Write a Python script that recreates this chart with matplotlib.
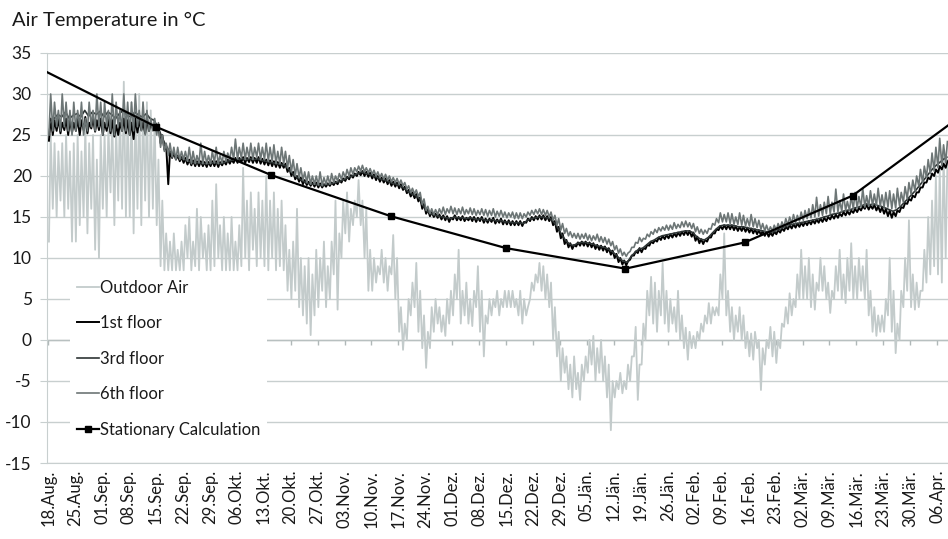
import numpy as np
import pandas as pd
import matplotlib
matplotlib.use("Agg")
import matplotlib.pyplot as plt

plt.rcParams['font.family'] = ['Lato', 'DejaVu Sans']
plt.rcParams['axes.unicode_minus'] = False

start = pd.Timestamp("2012-08-18")

# weekly tick labels
tick_labels = ["18.Aug.", "25.Aug.", "01.Sep.", "08.Sep.", "15.Sep.", "22.Sep.", "29.Sep.",
               "06.Okt.", "13.Okt.", "20.Okt.", "27.Okt.", "03.Nov.", "10.Nov.", "17.Nov.",
               "24.Nov.", "01.Dez.", "08.Dez.", "15.Dez.", "22.Dez.", "29.Dez.", "05.Jän.",
               "12.Jän.", "19.Jän.", "26.Jän.", "02.Feb.", "09.Feb.", "16.Feb.", "23.Feb.",
               "02.Mär.", "09.Mär.", "16.Mär.", "23.Mär.", "30.Mär.", "06.Apr."]

# outdoor air, daily max / min (one value per day from 18.Aug)
outdoor_max = [25, 24, 23, 24, 25, 23, 24,
               25, 23, 26, 24, 25, 22, 25,
               25, 26, 27, 26, 28, 31.5, 28,
               29, 28, 30, 29, 29, 28, 27,
               22, 17, 13, 12, 13, 11, 12,
               14, 15, 12, 16, 15, 13, 14,
               17, 19, 14, 15, 13, 15, 12,
               14, 21, 17, 18, 16, 18, 17,
               20, 17, 18, 16, 17, 14, 11,
               12, 16, 10, 9, 10, 8, 11,
               10, 12, 9, 12, 17, 13, 17,
               18, 16, 17, 19.5, 17, 16, 11,
               10, 9, 11, 10, 9, 12.8, 10,
               4, 2, 5, 7, 9.4, 6, 3,
               1, 4, 5, 4, 3, 5, 6,
               8, 11, 6, 7, 5, 6, 9,
               6, 3, 5, 5, 6, 5, 6,
               6, 6, 5, 6, 5, 4, 7,
               8, 9.4, 9, 8, 7, 4, 1,
               -1, -2, -3, -2, -4, -3, -2,
               0, 0.5, -1, 0, -2, -3, -5,
               -5, -4, -5, -3, -2, 1.6, -3,
               2, 6, 7.7, 7, 6, 9.4, 6,
               5, 4, 6, 3, 1.5, 1, 0.5,
               1, 2, 3, 4.5, 4, 4, 8,
               13, 6, 4, 3, 4, 3, 1,
               0.8, 1, 0, -1, 0, 1.6, 1,
               0, 2, 4, 5.7, 5, 8, 11,
               9, 10, 8, 7, 10, 9, 7,
               6, 9, 11, 8, 10, 11.8, 9,
               10, 9, 11, 6, 4, 3, 3,
               5, 10, 6, 2, 6, 10, 14.6,
               8, 7, 6, 11, 15, 17, 20,
               21, 23, 22]
outdoor_min = [12, 16, 15, 17, 15, 16, 12,
               12, 14, 15, 13, 16, 11, 10,
               16, 15, 18, 14, 17, 16, 15,
               15, 13, 16, 14, 17, 15, 16,
               14, 9, 8.5, 8.5, 8.5, 8.5, 8.5,
               8.5, 10, 8.5, 9, 8.5, 10, 8.5,
               8.5, 9, 10, 8.5, 8.5, 8.5, 8.5,
               8.5, 9, 10, 8.5, 11, 9, 10,
               9, 8.5, 10, 8.5, 9, 8.5, 6,
               5, 6, 4, 3, 2, 0.6, 3,
               4, 6, 4, 5, 8, 3.7, 10,
               13, 12, 14, 15, 14, 10, 6,
               6, 7, 8, 7, 6, 8, 5,
               1, -1.2, 0, 3, 4, 1, -1,
               -3.4, -1, 1, 2, 1, 0.5, 2,
               3, 5, 2, 3, 2, 1.7, 4,
               1, -2, 2, 3, 4, 3, 4,
               4, 4, 4, 3, 2, 3, 5,
               6, 7, 6, 5, 4, 0, -2,
               -5, -4, -6, -7, -6, -7.3, -5,
               -4, -3, -5, -4, -5, -7, -11,
               -7, -6, -6.5, -6, -5, -2, -7.3,
               -3, 0, 3, 2, 1, 3, 2,
               1, 2, 1, 0, -1, -2.4, -1,
               -1, 0, 1, 2, 2, 3, 3,
               5, 3, 1, 0, 1, 0, -1,
               -2, -2.4, -1, -6.1, -3, -1, -2,
               -2.8, -1, 1.6, 2, 3, 4, 5,
               5, 5, 4, 3.7, 6, 6, 5,
               3.3, 5, 6, 5, 4.5, 6, 5,
               5, 6, 5, 3, 1, 0.5, 1,
               1, 3, 1, -1.6, 0, 4, 6,
               4, 3.7, 4, 6, 7, 8, 9,
               8, 7, 10]

# 1st floor, daily max / min
floor1_max = [27, 26.8, 27, 26.5, 27, 26.8, 26.5, 27, 26.8, 27.2, 26.5, 27, 26.8, 27,
              26.5, 27, 26.8, 26.2, 26.5, 27, 26.8, 26.5, 27, 26.8, 26.5, 27, 26.5, 26.5,
              26.2, 25, 23.8, 23, 22.8, 22.5, 22.3,
              22.2, 22, 21.9, 21.8, 21.8, 21.7, 21.7, 21.8, 21.8, 21.7, 21.8, 22, 22, 22.2,
              22.2, 22.3, 22.2, 22.3, 22.2, 22.3, 22.1, 22, 21.9, 21.8, 21.7, 21.6,
              21.5, 21, 20.5, 20, 19.8, 19.5, 19.3, 19.2,
              19.2, 19.1, 19, 19.1, 19.2, 19.3, 19.5,
              19.7, 19.9, 20.1, 20.3, 20.5, 20.6,
              20.5, 20.4, 20.2, 20, 19.8, 19.7, 19.5, 19.3, 19.2, 19,
              18.7, 18.3, 18, 17.8, 17.4, 16.6, 15.9, 15.6, 15.4, 15.3,
              15.2, 15.1, 14.9, 15.2, 15, 15.1, 14.9, 15, 15, 14.9, 15, 14.8, 14.8, 14.9,
              14.7, 14.8, 14.6, 14.6, 14.5, 14.5, 14.5, 14.4,
              14.8, 15, 15.1, 15.2, 15.2, 15.1, 15,
              14.5, 13.8, 13, 12.2, 11.8, 11.6,
              11.9, 12, 12, 11.9, 11.8, 11.6, 11.5, 11.4, 11.2,
              10.9, 10.5, 10, 9.7, 9.6,
              10.3, 10.8, 11.2, 11.2, 11.6, 12, 12.2, 12.5, 12.7, 12.8,
              12.9, 13, 13.1, 13.2, 13.3, 13.3, 13.1,
              12.6, 12.3, 12.2, 12.5,
              13, 13.5, 13.9, 14, 14,
              14, 13.9, 13.8, 13.8, 13.7, 13.6, 13.5, 13.4, 13.3,
              13.2, 13.1, 13.2, 13.4, 13.6,
              13.8, 14, 14.1, 14.2, 14.3, 14.4, 14.5, 14.6, 14.7, 14.8,
              14.9, 15, 15.2, 15.3, 15.4, 15.6, 15.7, 15.8,
              16, 16.1, 16.3, 16.5, 16.4, 16.5, 16.3, 16.2, 16,
              15.8, 15.6, 15.8, 16.2, 16.7, 17.2,
              17.6, 18, 18.6, 19.2, 19.8,
              20.3, 20.8, 21.2, 21.5, 21.8]
floor1_min = [24.3, 25, 25.5, 25.2, 25.6, 25, 25.3, 25.5, 25, 25.6, 25.2, 25.8, 25.4, 25.6,
              25, 25.5, 25.2, 24.8, 25, 25.5, 25.2, 25, 24.5, 25.3, 25.6, 25.2, 25.5, 25.8,
              25.5, 24, 23.2, 19, 22.2, 22, 21.8,
              21.6, 21.4, 21.3, 21.2, 21.2, 21.2, 21.1, 21.2, 21.2, 21.1, 21.3, 21.4, 21.5, 21.6,
              21.6, 21.7, 21.6, 21.7, 21.6, 21.6, 21.5, 21.4, 21.3, 21.2, 21.1, 21,
              21, 20.5, 20, 19.6, 19.3, 19, 18.9, 18.8,
              18.7, 18.6, 18.6, 18.7, 18.8, 18.9, 19,
              19.2, 19.4, 19.6, 19.8, 20, 20.1,
              20, 19.9, 19.7, 19.5, 19.3, 19.2, 19, 18.8, 18.7, 18.5,
              18.3, 17.9, 17.5, 17.3, 16.9, 16, 15.4, 15.1, 15, 14.9,
              14.7, 14.6, 14.4, 14.7, 14.6, 14.6, 14.5, 14.6, 14.5, 14.4, 14.5, 14.3, 14.3, 14.4,
              14.2, 14.3, 14.1, 14.1, 14, 14, 14, 13.9,
              14.3, 14.5, 14.6, 14.7, 14.7, 14.6, 14.5,
              14, 13.2, 12.4, 11.7, 11.3, 11.1,
              11.4, 11.5, 11.5, 11.4, 11.3, 11.1, 11, 10.9, 10.7,
              10.4, 10, 9.5, 9.2, 9.1,
              9.8, 10.3, 10.6, 10.7, 11.1, 11.5, 11.8, 12, 12.2, 12.3,
              12.4, 12.5, 12.6, 12.7, 12.8, 12.8, 12.6,
              12.1, 11.8, 11.7, 12,
              12.5, 13, 13.4, 13.5, 13.5,
              13.5, 13.4, 13.3, 13.3, 13.2, 13.1, 13, 12.9, 12.8,
              12.7, 12.6, 12.7, 12.9, 13.1,
              13.3, 13.5, 13.6, 13.7, 13.8, 13.9, 14, 14.1, 14.2, 14.3,
              14.4, 14.5, 14.7, 14.8, 14.9, 15.1, 15.2, 15.3,
              15.5, 15.6, 15.8, 16, 15.9, 16, 15.8, 15.6, 15.4,
              15.1, 14.9, 15.1, 15.6, 16.1, 16.6,
              17, 17.4, 18, 18.6, 19.2,
              19.6, 20, 20.4, 20.8, 21]

# 3rd floor, daily values
floor3 = [26.5, 27, 27.5, 27.2, 27.8, 27, 27.4, 27.6, 27.2, 28, 27.3, 27.8, 27.5, 27.9,
          27.2, 27.8, 27.5, 27, 27.6, 28, 27.4, 27.2, 27.8, 27.4, 27.2, 27.6, 27, 26.8,
          26, 24.8, 23.8, 23, 22.7, 22.4, 22.2,
          22, 21.8, 21.7, 21.6, 21.6, 21.5, 21.5, 21.6, 21.6, 21.5, 21.6, 21.8, 21.9, 22,
          22, 22.1, 22, 22.1, 22, 22.1, 21.9, 21.8, 21.7, 21.6, 21.5, 21.4,
          21.3, 20.8, 20.3, 19.9, 19.6, 19.3, 19.1, 19,
          19, 18.9, 18.9, 19, 19.1, 19.2, 19.3,
          19.5, 19.7, 19.9, 20.1, 20.3, 20.5,
          20.3, 20.2, 20, 19.8, 19.6, 19.5, 19.3, 19.1, 19, 18.8,
          18.5, 18.1, 17.8, 17.6, 17.2, 16.3, 15.7, 15.4, 15.2, 15.1,
          15, 14.9, 14.8, 15, 14.9, 14.9, 14.8, 14.9, 14.8, 14.7, 14.8, 14.6, 14.6, 14.7,
          14.5, 14.6, 14.4, 14.4, 14.3, 14.3, 14.3, 14.2,
          14.6, 14.8, 14.9, 15, 15, 14.9, 14.8,
          14.3, 13.6, 12.8, 12.1, 11.7, 11.5,
          11.8, 11.9, 11.9, 11.8, 11.7, 11.5, 11.4, 11.3, 11.1,
          10.8, 10.4, 9.9, 9.6, 9.5,
          10.2, 10.7, 11.1, 11.2, 11.6, 12, 12.2, 12.5, 12.7, 12.8,
          12.9, 13, 13.1, 13.2, 13.3, 13.3, 13.1,
          12.6, 12.3, 12.2, 12.5,
          13, 13.5, 13.9, 14, 14,
          14, 13.9, 13.8, 13.8, 13.7, 13.6, 13.5, 13.4, 13.3,
          13.2, 13.1, 13.2, 13.4, 13.6,
          13.8, 14, 14.1, 14.2, 14.3, 14.4, 14.5, 14.6, 14.7, 14.8,
          15, 15.1, 15.3, 15.4, 15.5, 15.7, 15.8, 15.9,
          16.1, 16.2, 16.4, 16.6, 16.5, 16.6, 16.4, 16.3, 16.1,
          15.9, 15.7, 15.9, 16.3, 16.8, 17.3,
          17.8, 18.3, 18.9, 19.5, 20.1,
          20.7, 21.2, 21.6, 22, 22.3]

# 6th floor, daily max / min
floor6_max = [30, 29, 28, 30, 29, 28, 29, 28, 29, 27, 29, 28, 30, 29,
              29, 28, 30, 29, 28, 30, 29, 29, 30, 28, 29, 28, 27, 27,
              26.5, 25, 24, 24, 23.5, 23.5, 23,
              23, 23.5, 23, 22.5, 24, 23, 22.5, 23, 23.5, 22.5, 23, 22.8, 23.5, 24.5,
              23.5, 24, 23.5, 24, 23.5, 24, 23.5, 24, 23.5, 23.8, 23, 23.5,
              23, 22.5, 22, 21.5, 21, 20.5, 20.5, 20,
              20, 20.5, 19.8, 20, 20.3, 20, 20.3,
              20.5, 20.8, 21, 21, 21.2, 21.3,
              21, 20.9, 20.7, 20.5, 20.3, 20.2, 20, 19.8, 19.7, 19.5,
              19.2, 18.8, 18.5, 18.3, 18, 17.2, 16.3, 16, 15.9, 16,
              16.2, 16, 16.3, 16.1, 16, 16.2, 15.9, 16.1, 16, 15.8, 16, 15.9, 15.8, 16,
              15.7, 15.8, 15.6, 15.5, 15.6, 15.5, 15.5, 15.4,
              15.6, 15.8, 15.9, 16, 15.9, 15.8, 15.6,
              15.2, 14.8, 14.2, 13.6, 13.2, 13,
              13, 12.9, 13, 12.8, 12.7, 12.9, 12.6, 12.5, 12.3,
              12, 11.5, 11.1, 10.7, 10.6,
              11.3, 11.9, 12.5, 12.4, 12.9, 13.2, 13.5, 13.7, 13.8, 14,
              14, 14.3, 14.1, 14.4, 14.5, 14.3, 14.2,
              13.8, 13.5, 13.4, 13.6,
              14.2, 14.8, 15.5, 15.3, 15.5,
              15.4, 15, 15.5, 15.2, 14.8, 15.3, 14.8, 14.6, 14.2,
              14, 13.8, 14, 14.2, 14.4,
              14.8, 15, 15.3, 15.2, 15.6, 15.8, 16, 16.5, 17.4, 16.5,
              16.8, 17.5, 16.8, 18.4, 17, 17.8, 16.9, 17.5,
              18, 17.5, 18.5, 17.6, 18.2, 17.8, 18.5, 17.7, 18,
              18.2, 17.8, 18.5, 18, 18.7, 19.2,
              19.5, 20, 20.8, 21.2, 22,
              22.8, 23.5, 24.6, 23.8, 24.2]
floor6_min = [25, 25.5, 26, 25.5, 26, 25.5, 25, 25.5, 26, 25, 25.5, 26, 25.5, 26,
              25, 26, 25.5, 25, 26, 25.5, 25.5, 25, 25.5, 26, 25.5, 25, 25.5, 25.5,
              25, 23.5, 23, 22.5, 22.3, 22, 22,
              22, 21.8, 21.5, 21.5, 21.6, 21.5, 21.5, 21.5, 21.6, 21.5, 21.6, 21.8, 22, 22,
              22, 22.2, 22, 22.2, 22, 22.3, 22, 22, 21.8, 21.8, 21.5, 21.5,
              21.5, 21, 20.5, 20, 19.8, 19.5, 19.2, 19,
              19, 18.9, 18.8, 19, 19, 19.2, 19.4,
              19.6, 19.8, 20, 20.2, 20.5, 20.6,
              20.5, 20.4, 20.2, 20, 19.8, 19.6, 19.5, 19.3, 19.2, 19,
              18.8, 18.4, 18, 17.8, 17.5, 16.5, 15.8, 15.4, 15.3, 15.3,
              15.4, 15.3, 15.5, 15.4, 15.3, 15.4, 15.3, 15.4, 15.3, 15.2, 15.3, 15.2, 15.1, 15.2,
              15, 15.1, 15, 14.9, 15, 14.8, 14.8, 14.8,
              15, 15.2, 15.3, 15.4, 15.3, 15.2, 15,
              14.6, 14, 13.4, 13, 12.7, 12.5,
              12.4, 12.3, 12.4, 12.2, 12.1, 12.2, 12, 11.9, 11.7,
              11.5, 11, 10.6, 10.3, 10.2,
              10.8, 11.3, 11.8, 12, 12.3, 12.6, 12.9, 13.1, 13.3, 13.4,
              13.4, 13.5, 13.6, 13.7, 13.8, 13.8, 13.6,
              13.2, 13, 12.9, 13,
              13.5, 14, 14.3, 14.4, 14.4,
              14.2, 14.1, 14.1, 14, 13.9, 13.9, 13.8, 13.7, 13.5,
              13.3, 13.2, 13.3, 13.4, 13.6,
              13.8, 14, 14.2, 14.3, 14.5, 14.6, 14.8, 14.9, 15, 15.1,
              15.2, 15.4, 15.4, 15.6, 15.6, 15.7, 15.8, 15.8,
              16, 16.1, 16.2, 16.2, 16.3, 16.4, 16.4, 16.3, 16.2,
              16.2, 16, 16.1, 16.4, 16.8, 17.2,
              17.8, 18.2, 18.8, 19.2, 19.8,
              20.3, 20.6, 21, 21.3, 21.6]

# stationary calculation (mid of month)
stat_dates = ["2012-08-15", "2012-09-15", "2012-10-15", "2012-11-15", "2012-12-15",
              "2013-01-15", "2013-02-15", "2013-03-15", "2013-04-15"]
stat_values = [33.3, 26.0, 20.1, 15.1, 11.2, 8.7, 11.9, 17.6, 28.3]


def halfday(lo, hi):
    d = np.arange(len(lo))
    x = np.column_stack([d + 0.2, d + 0.65]).ravel()
    y = np.column_stack([lo, hi]).ravel()
    return x, y


grid_c = '#c8cfcf'
txt_c = '#1a1a1a'

fig = plt.figure(figsize=(9.48, 5.39), dpi=100)
ax = fig.add_axes([0.0496, 0.141, 0.9504, 0.7607])

x, y = halfday(outdoor_min, outdoor_max)
ax.plot(x, y, color='#c3cbcb', lw=1.3, label='Outdoor Air', zorder=3)
x, y = halfday(floor1_min, floor1_max)
ax.plot(x, y, color='#000000', lw=1.4, label='1st floor', zorder=4)
ax.plot(np.arange(len(floor3)) + 0.5, floor3, color='#2e3535', lw=1.2,
        label='3rd floor', zorder=4)
x, y = halfday(floor6_min, floor6_max)
ax.plot(x, y, color='#6d7676', lw=1.2, label='6th floor', zorder=4)
stat_x = [(pd.Timestamp(d) - start).days for d in stat_dates]
ax.plot(stat_x, stat_values, color='black', lw=1.6, marker='s', ms=5,
        label='Stationary Calculation', zorder=5)

ax.set_ylim(-15, 35)
ax.set_xlim(-0.3, 233.8)
ax.set_yticks(np.arange(-15, 36, 5))
ax.grid(axis='y', color=grid_c, lw=1)
ax.set_axisbelow(True)

tick_days = np.arange(len(tick_labels)) * 7
ax.set_xticks(tick_days)
ax.set_xticklabels(tick_labels, rotation=90, fontsize=12, color=txt_c)
ax.tick_params(axis='x', length=0, pad=5)
ax.tick_params(axis='y', length=5, color=grid_c, labelsize=12.5, labelcolor=txt_c, pad=6)

# small ticks on the zero line
ax.vlines(tick_days, -0.6, 0, color='#b0b8b8', lw=1, zorder=2)
ax.axhline(0, color='#b8c0c0', lw=1, zorder=2)

for s in ['top', 'right']:
    ax.spines[s].set_visible(False)
for s in ['left', 'bottom']:
    ax.spines[s].set_color(grid_c)

leg = ax.legend(loc='upper left', bbox_to_anchor=(0.026, 0.463), fontsize=12,
                frameon=True, fancybox=False, edgecolor='none', facecolor='white',
                framealpha=1, handlelength=1.3, handletextpad=0.05,
                labelspacing=1.17, numpoints=1, borderaxespad=0, borderpad=0.4)
for t in leg.get_texts():
    t.set_color(txt_c)

fig.text(0.013, 0.962, 'Air Temperature in °C', fontsize=14.5, color=txt_c, va='center')

fig.savefig('out.png', dpi=100)
